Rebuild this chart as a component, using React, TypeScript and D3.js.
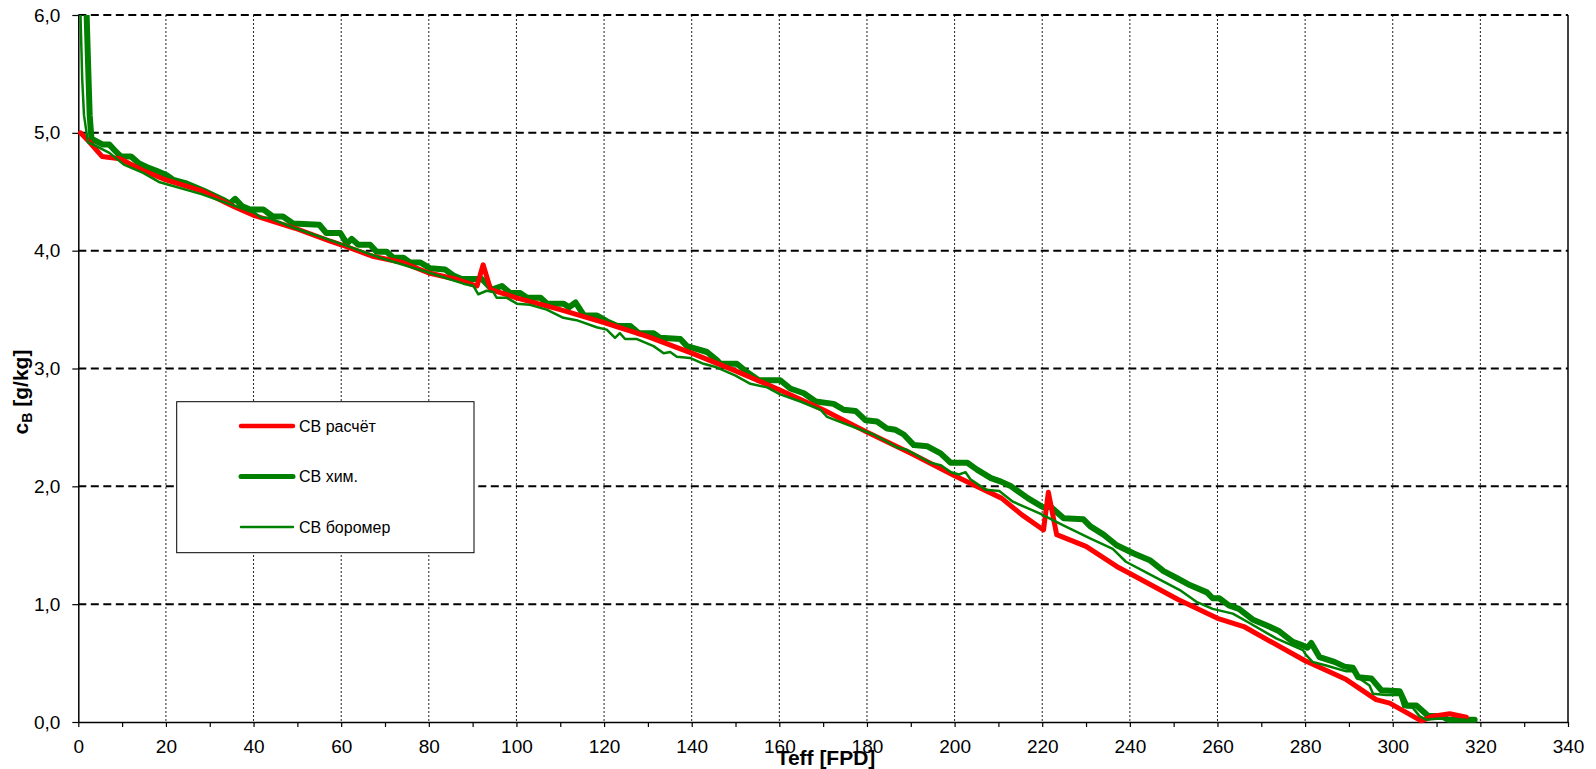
import React, { useRef, useEffect } from "react";
import * as d3 from "d3";

type Pt = [number, number];

// series names as in the legend
const seriesNames = ["СВ расчёт", "СВ хим.", "СВ боромер"];

// [Teff, cB]
const raschet: Pt[] = [
  [0.5, 5.0], [2.6, 4.92], [5.4, 4.8], [9.5, 4.78], [14.8, 4.68], [20, 4.6], [28, 4.51],
  [35.7, 4.37], [40, 4.3], [49.5, 4.19], [57.5, 4.08], [60, 4.05], [67.4, 3.95], [74, 3.9],
  [80, 3.81], [86, 3.76], [91, 3.7], [92.4, 3.88], [94.1, 3.67], [100, 3.6], [110, 3.5],
  [120, 3.39], [130, 3.27], [140, 3.13], [150, 2.98], [160, 2.82], [170, 2.65], [180, 2.46],
  [190, 2.28], [200, 2.09], [205, 2.0], [210.7, 1.9], [215.3, 1.76], [220.3, 1.63],
  [221.4, 1.95], [223.3, 1.59], [230, 1.49], [237, 1.32], [240, 1.26], [251, 1.04],
  [260, 0.88], [266, 0.81], [280, 0.52], [289.4, 0.36], [296.2, 0.19], [299.3, 0.16],
  [306.5, 0.01], [309.2, 0.05], [313, 0.07], [316.8, 0.04],
];

const khim: Pt[] = [
  [1.9, 6.0], [2.3, 5.5], [2.6, 5.15], [3.0, 4.95], [5.6, 4.9], [7.1, 4.9], [8.6, 4.84],
  [9.7, 4.8], [12, 4.8], [13.9, 4.74], [16.2, 4.7], [17.7, 4.68], [20.2, 4.64], [21.7, 4.6],
  [24.7, 4.57], [28.5, 4.51], [30.8, 4.47], [33.1, 4.43], [34.6, 4.4], [35.8, 4.44],
  [37.3, 4.38], [39.2, 4.35], [42.2, 4.35], [44.4, 4.29], [46.7, 4.29], [49, 4.23],
  [55, 4.22], [56.6, 4.15], [59.8, 4.15], [61.3, 4.06], [62.4, 4.1], [63.9, 4.05],
  [66.6, 4.05], [68.1, 3.99], [70.4, 3.99], [71.9, 3.94], [74.2, 3.94], [75.7, 3.9],
  [78, 3.9], [80.3, 3.85], [83.7, 3.84], [85.6, 3.79], [87.5, 3.76], [92.1, 3.76],
  [94.4, 3.67], [96.7, 3.7], [98.6, 3.64], [100.9, 3.64], [102.4, 3.6], [105.5, 3.6],
  [107, 3.55], [110.8, 3.55], [112, 3.52], [113.5, 3.56], [115.4, 3.45], [118.4, 3.45],
  [120.7, 3.4], [123, 3.36], [126, 3.36], [127.9, 3.3], [131.3, 3.3], [132.8, 3.26],
  [137.4, 3.25], [138.9, 3.19], [143.5, 3.14], [145.8, 3.07], [146.5, 3.04], [150.3, 3.04],
  [152.6, 2.97], [155.3, 2.9], [160.2, 2.9], [162.5, 2.83], [165.6, 2.79], [168.3, 2.72],
  [172.4, 2.7], [174.7, 2.65], [177.4, 2.64], [179.7, 2.56], [182.3, 2.55], [184.6, 2.49],
  [186.5, 2.48], [188.4, 2.44], [190.7, 2.35], [193.8, 2.34], [196.8, 2.28], [199.1, 2.2],
  [202.9, 2.2], [205.2, 2.14], [208.3, 2.07], [210.6, 2.04], [212.9, 2.0], [216.7, 1.9],
  [220.3, 1.82], [221.8, 1.83], [224.9, 1.73], [229.4, 1.72], [231, 1.66], [234, 1.59],
  [237, 1.5], [240.9, 1.43], [244.7, 1.37], [247.7, 1.28], [250.8, 1.22], [253.8, 1.16],
  [257.6, 1.1], [258.9, 1.05], [260.4, 1.05], [262.6, 0.99], [264.9, 0.96], [268, 0.87],
  [271.8, 0.81], [274.1, 0.77], [277.2, 0.68], [279.4, 0.65], [280.5, 0.63], [281.4, 0.67],
  [283.3, 0.55], [286.7, 0.51], [289, 0.47], [290.9, 0.46], [292.1, 0.38], [295.1, 0.37],
  [297.4, 0.27], [301.6, 0.26], [303.1, 0.14], [305.4, 0.14], [308.1, 0.05], [311.1, 0.05],
  [312.6, 0.02], [318.7, 0.02],
];

const boromer: Pt[] = [
  [0.5, 6.0], [0.9, 5.45], [1.3, 5.15], [2.2, 4.92], [3.4, 4.9], [7.1, 4.83], [10.4, 4.73],
  [14.8, 4.66], [18.6, 4.58], [28.1, 4.48], [35.7, 4.38], [40.3, 4.32], [41.8, 4.28],
  [43.3, 4.28], [49.5, 4.19], [57.5, 4.09], [62.1, 4.03], [68.9, 3.94], [80.3, 3.81],
  [87.9, 3.72], [90.2, 3.7], [91.3, 3.63], [93.2, 3.66], [94.7, 3.65], [95.5, 3.6],
  [97.8, 3.6], [100.1, 3.55], [103.1, 3.54], [106.9, 3.5], [110.7, 3.43], [113.7, 3.41],
  [118.3, 3.35], [120.6, 3.33], [122.5, 3.26], [123.6, 3.3], [124.8, 3.25], [127.5, 3.25],
  [131.3, 3.19], [133.6, 3.13], [135.1, 3.14], [136.6, 3.1], [139.6, 3.09], [142.7, 3.04],
  [145.7, 3.01], [150, 2.94], [153.4, 2.87], [157.2, 2.84], [160.2, 2.78], [164.8, 2.72],
  [169.4, 2.65], [170.9, 2.59], [174.3, 2.54], [181.5, 2.44], [186.9, 2.33], [189.1, 2.31],
  [194.5, 2.2], [196.8, 2.18], [199.2, 2.12], [201, 2.1], [202.5, 2.12], [203.6, 2.06],
  [207.2, 1.97], [210.2, 1.96], [213.3, 1.87], [219.4, 1.77], [224.7, 1.67], [230.8, 1.56],
  [236.1, 1.47], [239.1, 1.36], [243.7, 1.27], [251.4, 1.12], [255.2, 1.02], [258.9, 0.96],
  [263.5, 0.92], [267.3, 0.84], [273.4, 0.71], [279.5, 0.61], [280.2, 0.57], [281.7, 0.51],
  [284.8, 0.48], [289.4, 0.43], [290.9, 0.43], [292.4, 0.37], [294.7, 0.31], [295.5, 0.24],
  [298.5, 0.23], [301.6, 0.23], [302.4, 0.13], [304.6, 0.12], [306.1, 0.05], [307.6, 0.02],
  [310.7, 0.03], [316.8, 0.02],
];

const xTickValues = d3.range(0, 341, 10);
const xLabels = [0, 20, 40, 60, 80, 100, 120, 140, 160, 180, 200, 220, 240, 260, 280, 300, 320, 340];
const yLabels = [0, 1, 2, 3, 4, 5, 6];

const FONT = "'Liberation Sans', Arial, sans-serif";

function App() {
  const svgRef = useRef<SVGSVGElement>(null);

  useEffect(() => {
    document.body.style.margin = "0";
    const plot = { left: 78.3, right: 1568, top: 15, bottom: 722 };

    const svg = d3.select(svgRef.current);
    svg.selectAll("*").remove();

    const x = d3.scaleLinear().domain([0, 340]).range([plot.left, plot.right]);
    const y = d3.scaleLinear().domain([0, 6]).range([plot.bottom, plot.top]);

    // grid
    svg.append("g")
      .selectAll("line")
      .data(xLabels.filter((d) => d > 0 && d < 340))
      .join("line")
      .attr("x1", (d) => x(d)).attr("x2", (d) => x(d))
      .attr("y1", plot.top).attr("y2", plot.bottom)
      .attr("stroke", "#222").attr("stroke-width", 1)
      .attr("stroke-dasharray", "2,2");

    svg.append("g")
      .selectAll("line")
      .data(yLabels.filter((d) => d > 0))
      .join("line")
      .attr("x1", plot.left).attr("x2", plot.right)
      .attr("y1", (d) => y(d)).attr("y2", (d) => y(d))
      .attr("stroke", "#000").attr("stroke-width", 2)
      .attr("stroke-dasharray", "8,4.5");

    // right border
    svg.append("line")
      .attr("x1", x(340)).attr("x2", x(340))
      .attr("y1", plot.top).attr("y2", plot.bottom)
      .attr("stroke", "#000").attr("stroke-width", 1.5);

    // axes
    const fmt = (v: number) => d3.format(".1f")(v).replace(".", ",");
    const gy = svg.append("g")
      .attr("transform", `translate(${plot.left},0)`)
      .call(d3.axisLeft(y).tickValues(yLabels).tickSize(6).tickSizeOuter(0).tickPadding(12).tickFormat((d) => fmt(+d)));
    const gx = svg.append("g")
      .attr("transform", `translate(0,${plot.bottom})`)
      .call(d3.axisBottom(x).tickValues(xTickValues).tickSize(5).tickSizeOuter(0).tickPadding(13)
        .tickFormat((d) => (xLabels.includes(+d) ? String(d) : "")));
    [gx, gy].forEach((g) => {
      g.attr("font-family", FONT).attr("font-size", 19);
      g.selectAll("text").attr("fill", "#000");
      g.selectAll("line").attr("stroke", "#000").attr("stroke-width", 1.2);
      g.select(".domain").attr("stroke", "#000").attr("stroke-width", 1.5);
    });

    // series
    svg.append("defs").append("clipPath").attr("id", "plotClip")
      .append("rect")
      .attr("x", plot.left - 5).attr("y", plot.top)
      .attr("width", plot.right - plot.left + 10).attr("height", plot.bottom - plot.top + 10);

    const lineGen = d3.line<Pt>().x((d) => x(d[0])).y((d) => y(d[1]));
    const series = [
      { data: khim, color: "#008000", width: 6 },
      { data: raschet, color: "#ff0000", width: 5 },
      { data: boromer, color: "#008000", width: 2.5 },
    ];
    svg.append("g").attr("clip-path", "url(#plotClip)")
      .selectAll("path")
      .data(series)
      .join("path")
      .attr("d", (s) => lineGen(s.data))
      .attr("fill", "none")
      .attr("stroke", (s) => s.color)
      .attr("stroke-width", (s) => s.width)
      .attr("stroke-linejoin", "round")
      .attr("stroke-linecap", "round");

    // legend
    const legend = svg.append("g");
    legend.append("rect")
      .attr("x", 176.7).attr("y", 401.7).attr("width", 297.3).attr("height", 151)
      .attr("fill", "#fff").attr("stroke", "#000").attr("stroke-width", 1);
    const legendItems = [
      { name: seriesNames[0], color: "#ff0000", width: 4.5 },
      { name: seriesNames[1], color: "#008000", width: 5 },
      { name: seriesNames[2], color: "#008000", width: 2.5 },
    ];
    const rowY = (i: number) => 426 + i * 50.5;
    legend.selectAll("line")
      .data(legendItems)
      .join("line")
      .attr("x1", 241).attr("x2", 293)
      .attr("y1", (_, i) => rowY(i)).attr("y2", (_, i) => rowY(i))
      .attr("stroke", (d) => d.color).attr("stroke-width", (d) => d.width)
      .attr("stroke-linecap", "round");
    legend.selectAll("text")
      .data(legendItems)
      .join("text")
      .attr("x", 299).attr("y", (_, i) => rowY(i))
      .attr("dy", "0.35em")
      .attr("font-family", FONT).attr("font-size", 16)
      .text((d) => d.name);

    // axis titles
    svg.append("text")
      .attr("x", 826).attr("y", 765)
      .attr("text-anchor", "middle")
      .attr("font-family", FONT).attr("font-size", 21).attr("font-weight", "bold")
      .text("Teff [FPD]");

    const yt = svg.append("text")
      .attr("transform", "translate(28,392) rotate(-90)")
      .attr("text-anchor", "middle")
      .attr("font-family", FONT).attr("font-size", 21).attr("font-weight", "bold");
    yt.append("tspan").text("c");
    yt.append("tspan").attr("font-size", 14).attr("dy", 4).text("B");
    yt.append("tspan").attr("dy", -4).text(" [g/kg]");
  }, []);

  return <svg ref={svgRef} width={1596} height={769} style={{ display: "block" }} />;
}

export default App;
